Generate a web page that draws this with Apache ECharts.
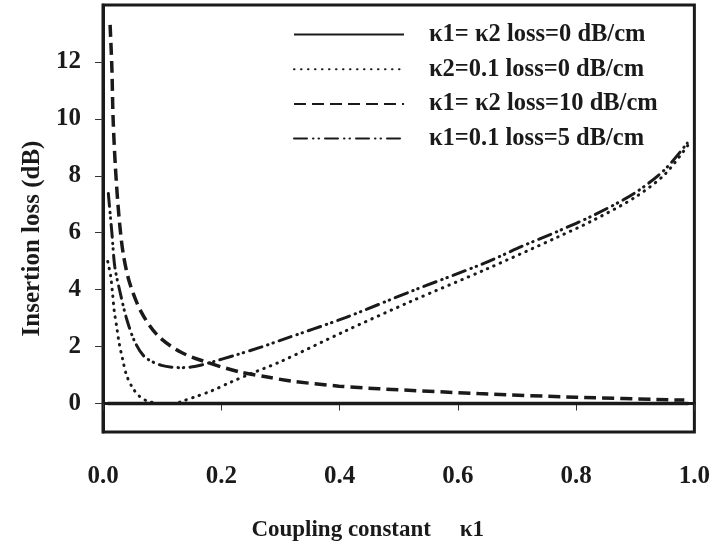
<!DOCTYPE html>
<html>
<head>
<meta charset="utf-8">
<script src="https://cdn.jsdelivr.net/npm/echarts@6/dist/echarts.min.js"></script>
<style>html,body{margin:0;padding:0;background:#fff}#c{width:713px;height:547px}</style>
</head>
<body>
<div id="c"></div>
<script>
// Series names (legend)
const seriesNames = [
  'κ1= κ2 loss=0 dB/cm',
  'κ2=0.1 loss=0 dB/cm',
  'κ1= κ2 loss=10 dB/cm',
  'κ1=0.1 loss=5 dB/cm'
];
// Axis ticks
const xTicks = [0, 0.2, 0.4, 0.6, 0.8, 1.0];
const yTicks = [0, 2, 4, 6, 8, 10, 12];

// Series 1: solid (κ1=κ2, loss 0)
const solidX = [0.008, 0.99];
const solidY = [0, 0];

// Series 2: dotted (κ2=0.1, loss 0)
const dottedX = [0.008,0.013,0.016,0.019,0.023,0.027,0.033,0.040,0.051,0.062,0.076,0.099,0.121,0.135,0.155,0.183,0.217,0.25,0.3,0.41,0.522,0.646,0.769,0.83,0.9,0.95,0.99];
const dottedY = [4.99,4.47,3.9,3.25,2.72,2.16,1.57,0.98,0.52,0.25,0.08,0.0,0.0,0.09,0.23,0.44,0.76,1.05,1.47,2.55,3.6,4.7,5.85,6.45,7.25,8.05,9.1];

// Series 3: dashed (κ1=κ2, loss 10 dB/cm)
const dashedX = [0.012,0.015,0.017,0.021,0.027,0.034,0.045,0.065,0.093,0.132,0.183,0.233,0.278,0.318,0.399,0.466,0.635,0.8,0.983];
const dashedY = [13.3,11.8,10.06,8.3,6.57,5.29,4.24,3.2,2.38,1.8,1.4,1.1,0.93,0.79,0.61,0.52,0.35,0.22,0.12];

// Series 4: dash-dot-dot (κ1=0.1, loss 5 dB/cm)
const dashDotX = [0.009,0.015,0.02,0.029,0.04,0.054,0.071,0.099,0.132,0.155,0.183,0.222,0.267,0.3,0.41,0.522,0.646,0.708,0.769,0.831,0.898,0.949,0.988];
const dashDotY = [7.38,6.0,4.8,3.9,2.97,2.16,1.63,1.34,1.26,1.3,1.45,1.69,1.98,2.22,3.02,3.95,4.94,5.52,6.05,6.63,7.38,8.2,9.15];

const zip = (xs, ys) => xs.map((x, i) => [x, ys[i]]);
const FONT = '"Liberation Serif", "DejaVu Serif", serif';

const chart = echarts.init(document.getElementById('c'), null, {renderer: 'canvas'});
chart.setOption({
  animation: false,
  backgroundColor: '#fff',
  grid: {left: 103, right: 16, top: 5, bottom: 114, show: true, borderColor: '#1a1a1a', borderWidth: 3, backgroundColor: 'transparent'},
  legend: {
    orient: 'vertical', left: 288, top: 17,
    itemWidth: 110, itemHeight: 20, itemGap: 9.7,
    data: seriesNames,
    itemStyle: {opacity: 0},
    textStyle: {fontFamily: FONT, fontWeight: 'bold', fontSize: 24.5, lineHeight: 20, color: '#1a1a1a', padding: [0, 0, 0, 20]}
  },
  xAxis: {
    type: 'value', min: 0, max: 1, interval: 0.2,
    axisLine: {show: true, lineStyle: {color: '#1a1a1a', width: 3}},
    axisTick: {show: true, inside: false, length: 7, lineStyle: {color: '#333', width: 1}, customValues: xTicks},
    axisLabel: {customValues: xTicks, formatter: v => v.toFixed(1), margin: 32, fontFamily: FONT, fontWeight: 'bold', fontSize: 25, color: '#1a1a1a'},
    splitLine: {show: false},
    name: 'Coupling constant     κ1', nameLocation: 'middle', nameGap: 87,
    nameTextStyle: {fontFamily: FONT, fontWeight: 'bold', fontSize: 23, color: '#1a1a1a', padding: [0, 62, 0, 0]}
  },
  yAxis: {
    type: 'value', min: -1, max: 14,
    axisLine: {show: true, lineStyle: {color: '#1a1a1a', width: 3}},
    axisTick: {show: true, inside: false, length: 8, lineStyle: {color: '#333', width: 1}, customValues: yTicks},
    axisLabel: {customValues: yTicks, margin: 22, fontFamily: FONT, fontWeight: 'bold', fontSize: 25, color: '#1a1a1a'},
    splitLine: {show: false},
    name: 'Insertion loss (dB)', nameLocation: 'middle', nameGap: 57,
    nameTextStyle: {fontFamily: FONT, fontWeight: 'bold', fontSize: 25, color: '#1a1a1a', padding: [0, 40, 0, 0]}
  },
  series: [
    {name: seriesNames[0], type: 'line', symbol: 'none', data: zip(solidX, solidY),
     lineStyle: {color: '#1a1a1a', width: 3.5, type: 'solid'}, itemStyle: {color: '#1a1a1a'}},
    {name: seriesNames[1], type: 'line', symbol: 'none', smooth: 0.3, data: zip(dottedX, dottedY),
     lineStyle: {color: '#1a1a1a', width: 3, type: [0.5, 6.5], cap: 'round'}, itemStyle: {color: '#1a1a1a'}},
    {name: seriesNames[2], type: 'line', symbol: 'none', smooth: 0.3, data: zip(dashedX, dashedY),
     lineStyle: {color: '#1a1a1a', width: 3.5, type: [12, 6], cap: 'butt'}, itemStyle: {color: '#1a1a1a'}},
    {name: seriesNames[3], type: 'line', symbol: 'none', smooth: 0.3, data: zip(dashDotX, dashDotY),
     lineStyle: {color: '#1a1a1a', width: 3, type: [13, 6, 0.5, 5, 0.5, 6], cap: 'round'}, itemStyle: {color: '#1a1a1a'}}
  ]
});
</script>
</body>
</html>
